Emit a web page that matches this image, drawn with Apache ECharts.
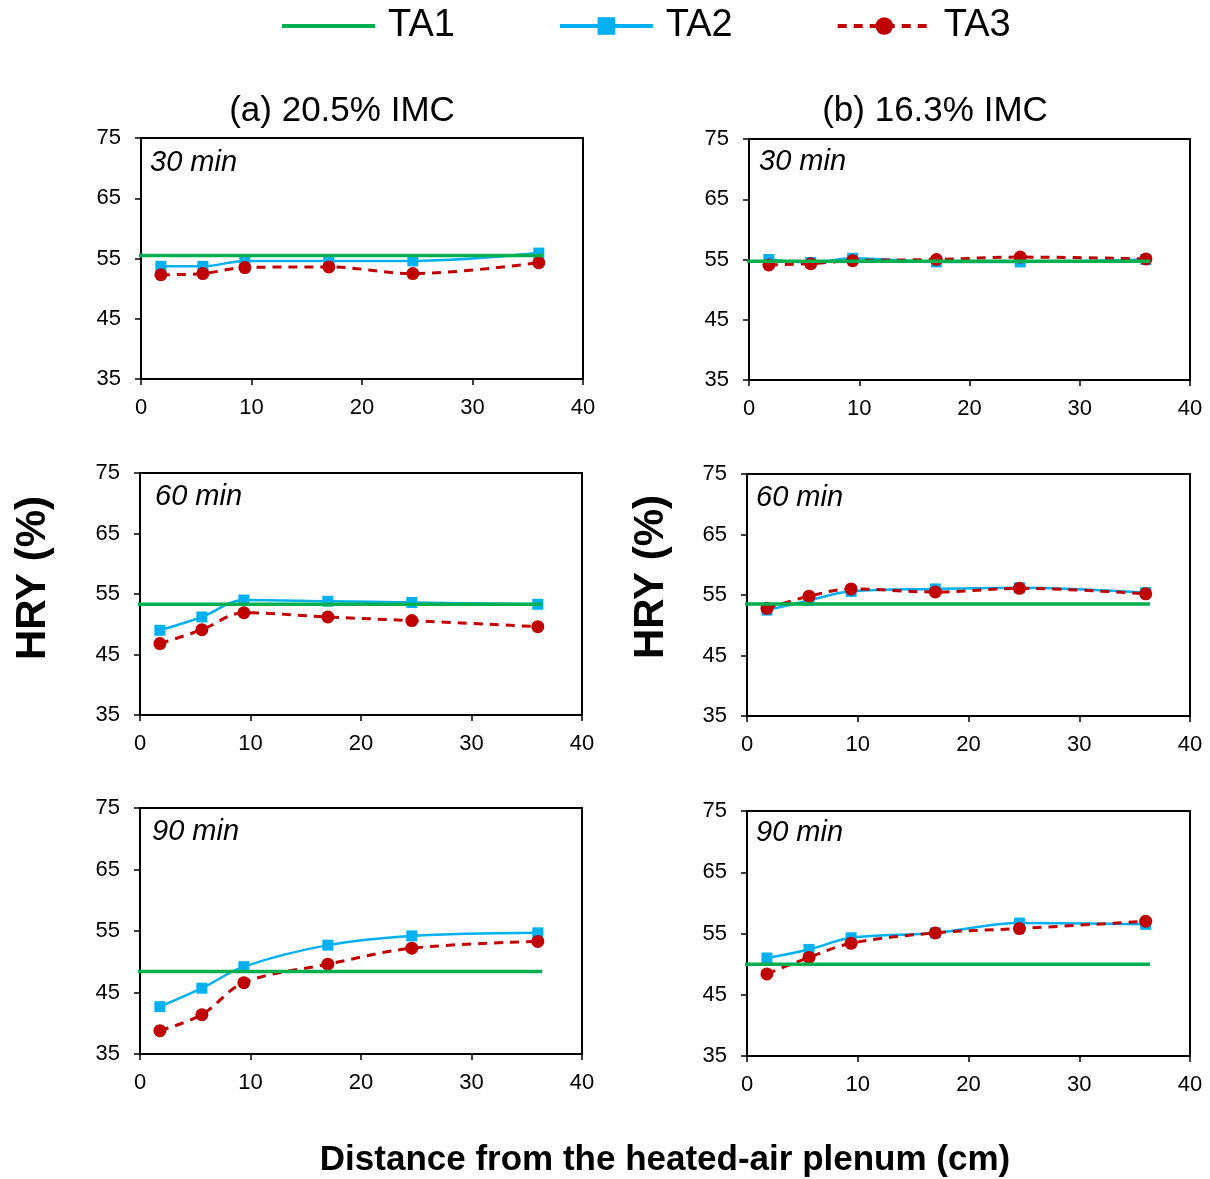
<!DOCTYPE html>
<html>
<head>
<meta charset="utf-8">
<script src="https://cdn.jsdelivr.net/npm/echarts@6/dist/echarts.min.js"></script>
<style>html,body{margin:0;padding:0;background:#fff}#c{width:1210px;height:1179px}</style>
</head>
<body>
<div id="c"></div>
<script>
// ---- data ----
const seriesNames = ['TA1', 'TA2', 'TA3'];
const xDist = [1.8, 5.6, 9.4, 17.0, 24.6, 36.0];      // distance (cm)
const ta1X = [-0.5, 36.4];                             // extent of TA1 reference line
const xTicks = [0, 10, 20, 30, 40];
const yTicks = [35, 45, 55, 65, 75];
const panelTitles = ['(a) 20.5% IMC', '(b) 16.3% IMC'];
const timeLabels = ['30 min', '60 min', '90 min'];
const ta1A = [55.5, 53.3, 48.4];   // panel (a): 30, 60, 90 min
const ta1B = [54.7, 53.5, 50.0];   // panel (b)
const ta2A30 = [53.7, 53.7, 54.6, 54.6, 54.6, 55.9];
const ta3A30 = [52.3, 52.5, 53.5, 53.6, 52.5, 54.3];
const ta2B30 = [55.0, 54.5, 55.2, 54.6, 54.6, 55.0];
const ta3B30 = [54.1, 54.3, 54.8, 55.0, 55.4, 55.1];
const ta2A60 = [49.0, 51.2, 54.0, 53.8, 53.6, 53.3];
const ta3A60 = [46.8, 49.1, 51.9, 51.2, 50.6, 49.6];
const ta2B60 = [52.5, 54.1, 55.6, 56.0, 56.2, 55.4];
const ta3B60 = [52.8, 54.8, 56.0, 55.5, 56.1, 55.2];
const ta2A90 = [42.7, 45.7, 49.2, 52.7, 54.2, 54.7];
const ta3A90 = [38.8, 41.4, 46.6, 49.6, 52.2, 53.3];
const ta2B90 = [51.0, 52.4, 54.3, 55.1, 56.7, 56.5];
const ta3B90 = [48.4, 51.1, 53.4, 55.1, 55.8, 57.0];

// ---- layout ----
const FONT = '"Liberation Sans", Arial, sans-serif';
const C1 = '#00B050', C2 = '#00B0F0', C3 = '#C00000';
const panels = [
  {g:{left:141, top:138, width:442, height:241}, t1:ta1A[0], t2:ta2A30, t3:ta3A30, lab:timeLabels[0], lx:150, ly:163},
  {g:{left:749, top:139, width:441, height:241}, t1:ta1B[0], t2:ta2B30, t3:ta3B30, lab:timeLabels[0], lx:759, ly:162},
  {g:{left:140, top:473, width:442, height:242}, t1:ta1A[1], t2:ta2A60, t3:ta3A60, lab:timeLabels[1], lx:155, ly:497},
  {g:{left:747, top:474, width:443, height:242}, t1:ta1B[1], t2:ta2B60, t3:ta3B60, lab:timeLabels[1], lx:756, ly:498},
  {g:{left:140, top:808, width:442, height:246}, t1:ta1A[2], t2:ta2A90, t3:ta3A90, lab:timeLabels[2], lx:152, ly:832},
  {g:{left:747, top:811, width:443, height:245}, t1:ta1B[2], t2:ta2B90, t3:ta3B90, lab:timeLabels[2], lx:756, ly:833}
];

const grids = [], xAxes = [], yAxes = [], series = [], graphics = [];
panels.forEach((p, i) => {
  grids.push(Object.assign({show:true, borderColor:'#000', borderWidth:2, backgroundColor:'#fff'}, p.g));
  xAxes.push({
    gridIndex:i, type:'value', min:xTicks[0], max:xTicks[xTicks.length-1], interval:xTicks[1]-xTicks[0],
    axisLine:{show:true, onZero:false, lineStyle:{color:'#000', width:2}},
    axisTick:{show:true, length:6, lineStyle:{color:'#000', width:1.5}},
    axisLabel:{color:'#000', fontSize:22, fontFamily:FONT, margin:18},
    splitLine:{show:false}
  });
  yAxes.push({
    gridIndex:i, type:'value', min:yTicks[0], max:yTicks[yTicks.length-1], interval:yTicks[1]-yTicks[0],
    axisLine:{show:true, onZero:false, lineStyle:{color:'#000', width:2}},
    axisTick:{show:true, length:6, lineStyle:{color:'#000', width:1.5}},
    axisLabel:{color:'#000', fontSize:22, fontFamily:FONT, margin:20},
    splitLine:{show:false}
  });
  series.push({
    name:'TA2', type:'line', xAxisIndex:i, yAxisIndex:i, smooth:0.35,
    data: xDist.map((x, j) => [x, p.t2[j]]),
    symbol:'rect', symbolSize:11, itemStyle:{color:C2},
    lineStyle:{color:C2, width:2.5}, z:3
  });
  series.push({
    name:'TA3', type:'line', xAxisIndex:i, yAxisIndex:i, smooth:0.35,
    data: xDist.map((x, j) => [x, p.t3[j]]),
    symbol:'circle', symbolSize:13, itemStyle:{color:C3},
    lineStyle:{color:C3, width:3, type:[9, 7]}, z:4
  });
  series.push({
    name:'TA1', type:'line', xAxisIndex:i, yAxisIndex:i, clip:false,
    data: ta1X.map(x => [x, p.t1]),
    symbol:'none', itemStyle:{color:C1},
    lineStyle:{color:C1, width:3.5}, z:5
  });
  graphics.push({type:'text', x:p.lx, y:p.ly, style:{text:p.lab, fill:'#000', font:'italic 29px ' + FONT, align:'left', verticalAlign:'middle'}});
});

graphics.push({type:'text', x:342, y:111, style:{text:panelTitles[0], fill:'#000', font:'35px ' + FONT, align:'center', verticalAlign:'middle'}});
graphics.push({type:'text', x:935, y:111, style:{text:panelTitles[1], fill:'#000', font:'35px ' + FONT, align:'center', verticalAlign:'middle'}});
graphics.push({type:'text', x:33, y:578, rotation:Math.PI/2, style:{text:'HRY (%)', fill:'#000', font:'bold 42px ' + FONT, align:'center', verticalAlign:'middle'}});
graphics.push({type:'text', x:651, y:577, rotation:Math.PI/2, style:{text:'HRY (%)', fill:'#000', font:'bold 42px ' + FONT, align:'center', verticalAlign:'middle'}});
graphics.push({type:'text', x:665, y:1160, style:{text:'Distance from the heated-air plenum (cm)', fill:'#000', font:'bold 35px ' + FONT, align:'center', verticalAlign:'middle'}});

const chart = echarts.init(document.getElementById('c'), null, {renderer:'canvas'});
chart.setOption({
  animation:false,
  backgroundColor:'#fff',
  legend:{
    data:[
      {name:seriesNames[0], itemStyle:{opacity:0}, lineStyle:{width:4}},
      {name:seriesNames[1], lineStyle:{width:4}},
      {name:seriesNames[2], lineStyle:{width:4}}
    ],
    left:275, top:2, itemWidth:93, itemHeight:22, itemGap:103,
    textStyle:{color:'#000', fontSize:38, fontFamily:FONT, padding:[0,0,0,8]}
  },
  grid:grids, xAxis:xAxes, yAxis:yAxes, series:series, graphic:graphics
});
</script>
</body>
</html>
